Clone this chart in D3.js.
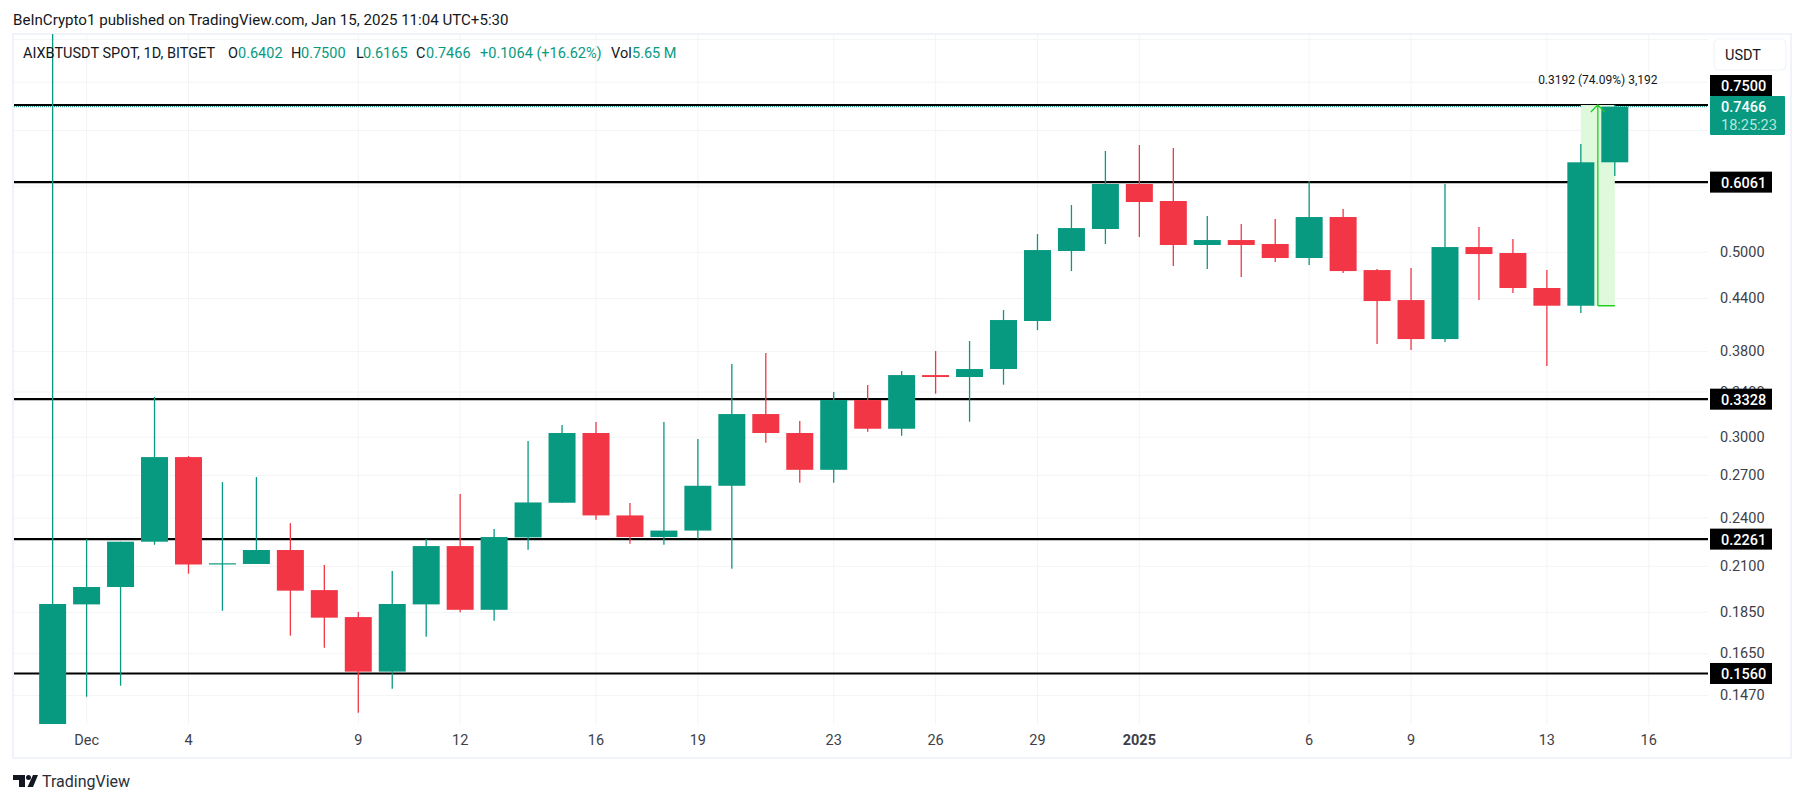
<!DOCTYPE html>
<html>
<head>
<meta charset="utf-8">
<script src="https://d3js.org/d3.v7.min.js"></script>
<style>
  body { margin: 0; background: #fff; }
  text { font-family: Roboto, sans-serif; }
</style>
</head>
<body>
<div id="chart"></div>
<script>
var svgWidth = 1804;
var svgHeight = 803;

// one entry per day, 30 Nov 2024 to 15 Jan 2025
var opens = [0.1300, 0.1888, 0.1981, 0.2245, 0.2836, 0.2108, 0.2111, 0.2194, 0.1964, 0.1823, 0.1568, 0.1888,
    0.2218, 0.1860, 0.2272, 0.2500, 0.3031, 0.2414, 0.2274, 0.2315, 0.2620, 0.3194, 0.3031, 0.2738, 0.3320,
    0.3067, 0.3557, 0.3538, 0.3617, 0.4130, 0.5011, 0.5325, 0.6030, 0.5753, 0.5095, 0.5165, 0.5109, 0.4915,
    0.5504, 0.4754, 0.4376, 0.3929, 0.5066, 0.4983, 0.4524, 0.4308, 0.6402];
var highs = [1.0500, 0.2261, 0.2245, 0.3348, 0.2844, 0.2647, 0.2684, 0.2363, 0.2105, 0.1849, 0.2070, 0.2261,
    0.2561, 0.2325, 0.2965, 0.3098, 0.3124, 0.2498, 0.3124, 0.2981, 0.3667, 0.3780, 0.3133, 0.3395, 0.3461,
    0.3597, 0.3801, 0.3908, 0.4257, 0.5251, 0.5689, 0.6605, 0.6716, 0.6660, 0.5519, 0.5399, 0.5474, 0.6080,
    0.5627, 0.4768, 0.4780, 0.6030, 0.5354, 0.5180, 0.4754, 0.6734, 0.7500];
var lows = [0.1300, 0.1463, 0.1508, 0.2226, 0.2055, 0.1855, 0.2111, 0.1732, 0.1675, 0.1400, 0.1496, 0.1727,
    0.1848, 0.1805, 0.2195, 0.2500, 0.2385, 0.2232, 0.2226, 0.2264, 0.2083, 0.2951, 0.2642, 0.2642, 0.3041,
    0.3008, 0.3379, 0.3127, 0.3464, 0.4028, 0.4741, 0.5109, 0.5209, 0.4808, 0.4768, 0.4664, 0.4861, 0.4821,
    0.4715, 0.3875, 0.3812, 0.3897, 0.4376, 0.4462, 0.3647, 0.4222, 0.6165];
var closes = [0.1890, 0.1981, 0.2245, 0.2836, 0.2108, 0.2115, 0.2194, 0.1961, 0.1820, 0.1568, 0.1890, 0.2218,
    0.1860, 0.2274, 0.2502, 0.3031, 0.2414, 0.2274, 0.2315, 0.2620, 0.3194, 0.3031, 0.2738, 0.3320, 0.3067,
    0.3557, 0.3538, 0.3617, 0.4141, 0.5024, 0.5339, 0.6030, 0.5737, 0.5095, 0.5165, 0.5095, 0.4915, 0.5504,
    0.4741, 0.4364, 0.3929, 0.5066, 0.4969, 0.4524, 0.4308, 0.6402, 0.7466];

// all of these get a grid line, the ones in hiddenPriceLabels sit behind a box in the original
var priceTicks = [0.9, 0.8, 0.7, 0.6, 0.5, 0.44, 0.38, 0.34, 0.3, 0.27, 0.24, 0.21, 0.185, 0.165, 0.147];
var hiddenPriceLabels = [0.9, 0.8, 0.7, 0.6];
var levels = [0.75, 0.6061, 0.3328, 0.2261, 0.156];
var lastPrice = 0.7466;

var tickDays = ["2024-12-01", "2024-12-04", "2024-12-09", "2024-12-12", "2024-12-16", "2024-12-19", "2024-12-23",
    "2024-12-26", "2024-12-29", "2025-01-01", "2025-01-06", "2025-01-09", "2025-01-13", "2025-01-16"];
var tickLabels = ["Dec", "4", "9", "12", "16", "19", "23", "26", "29", "2025", "6", "9", "13", "16"];

var measureDays = ["2025-01-14", "2025-01-15"];
var measurePrices = [0.4308, 0.75];

var upColor = "#089981";
var downColor = "#f23645";
var gridColor = "#f3f4f6";
var borderColor = "#f0f3fa";

var pane = { left: 14, right: 1708, top: 35, bottom: 724 };

var dayFormat = d3.utcFormat("%Y-%m-%d");
var priceFormat = d3.format(".4f");
// runs one day past the last candle so the "16" tick has a slot
var days = d3.utcDay.range(Date.UTC(2024, 10, 30), Date.UTC(2025, 0, 17)).map(dayFormat);

var svg = d3.select("#chart")
    .append("svg")
    .attr("width", svgWidth)
    .attr("height", svgHeight)
    .style("display", "block");

var xScale = d3.scaleBand()
    .domain(days)
    .range([39.14, 1662.26])
    .paddingInner(0.205)
    .paddingOuter(0);

var yScale = d3.scaleLog()
    .domain([0.75, 0.147])
    .range([105, 695]);

function xMid(day) {
    return xScale(day) + xScale.bandwidth() / 2;
}

// the 0.7500 box is pushed up so it clears the last price box
function levelLabelY(d) {
    return d === lastMeasureLevel ? yScale(d) - 19.5 : yScale(d);
}
var lastMeasureLevel = d3.max(levels);

svg.append("clipPath")
    .attr("id", "paneClip")
    .append("rect")
    .attr("x", pane.left)
    .attr("y", pane.top - 1)
    .attr("width", pane.right - pane.left)
    .attr("height", pane.bottom - pane.top + 1);

// grid + axes
var xAxis = svg.append("g")
    .attr("transform", `translate(0, ${pane.bottom})`)
    .call(d3.axisBottom(xScale)
        .tickValues(tickDays)
        .tickFormat(d => tickLabels[tickDays.indexOf(d)])
        .tickSize(-(pane.bottom - pane.top))
        .tickPadding(11));

var yAxis = svg.append("g")
    .attr("transform", `translate(${pane.right}, 0)`)
    .call(d3.axisRight(yScale)
        .tickValues(priceTicks)
        .tickFormat(d => hiddenPriceLabels.includes(d) ? "" : priceFormat(d))
        .tickSize(-(pane.right - pane.left))
        .tickPadding(12));

svg.selectAll(".domain").remove();
svg.selectAll(".tick line").attr("stroke", gridColor).attr("stroke-width", 1);
svg.selectAll(".tick text")
    .attr("font-family", "Roboto, sans-serif")
    .attr("font-size", 14.5)
    .attr("fill", "#3d4048");
xAxis.selectAll(".tick text")
    .attr("font-weight", d => d === "2025-01-01" ? "bold" : "normal");

// outer frame
svg.append("rect")
    .attr("x", 13)
    .attr("y", 34)
    .attr("width", 1778)
    .attr("height", 724)
    .attr("fill", "none")
    .attr("stroke", borderColor)
    .attr("stroke-width", 2);

var plot = svg.append("g").attr("clip-path", "url(#paneClip)");

// horizontal levels sit under the candles
plot.selectAll(".level")
    .data(levels)
    .enter()
    .append("line")
    .attr("class", "level")
    .attr("x1", pane.left)
    .attr("x2", pane.right)
    .attr("y1", d => yScale(d))
    .attr("y2", d => yScale(d))
    .attr("stroke", "#000")
    .attr("stroke-width", 2.2);

plot.append("line")
    .attr("x1", pane.left)
    .attr("x2", pane.right)
    .attr("y1", yScale(lastPrice))
    .attr("y2", yScale(lastPrice))
    .attr("stroke", upColor)
    .attr("stroke-width", 1)
    .attr("stroke-dasharray", "1,1");

// measure box
var measureLeft = xMid(measureDays[0]);
var measureRight = xMid(measureDays[1]);
var measureMid = (measureLeft + measureRight) / 2;
var measureTop = yScale(measurePrices[1]);
var measureBottom = yScale(measurePrices[0]);

plot.append("rect")
    .attr("x", measureLeft)
    .attr("y", measureTop)
    .attr("width", measureRight - measureLeft)
    .attr("height", measureBottom - measureTop)
    .attr("fill", "#dff9dc");

// candles
var candleIndex = d3.range(opens.length);

plot.selectAll(".wick")
    .data(candleIndex)
    .enter()
    .append("line")
    .attr("class", "wick")
    .attr("x1", i => xMid(days[i]))
    .attr("x2", i => xMid(days[i]))
    .attr("y1", i => yScale(highs[i]))
    .attr("y2", i => yScale(lows[i]))
    .attr("stroke", i => closes[i] >= opens[i] ? upColor : downColor)
    .attr("stroke-width", 1.3);

plot.selectAll(".body")
    .data(candleIndex)
    .enter()
    .append("rect")
    .attr("class", "body")
    .attr("x", i => xScale(days[i]))
    .attr("y", i => yScale(Math.max(opens[i], closes[i])))
    .attr("width", xScale.bandwidth())
    .attr("height", i => Math.max(1.2, yScale(Math.min(opens[i], closes[i])) - yScale(Math.max(opens[i], closes[i]))))
    .attr("fill", i => closes[i] >= opens[i] ? upColor : downColor);

// measure arrow
var arrowColor = "#22d022";
svg.append("path")
    .attr("d", `M${measureMid},${measureBottom}V${measureTop}M${measureMid - 7},${measureTop + 7}L${measureMid},${measureTop}L${measureMid + 7},${measureTop + 7}M${measureMid},${measureBottom}H${measureRight}`)
    .attr("fill", "none")
    .attr("stroke", arrowColor)
    .attr("stroke-width", 1.3);

svg.append("text")
    .attr("x", measureMid)
    .attr("y", 84)
    .attr("text-anchor", "middle")
    .attr("font-size", 12)
    .attr("fill", "#131722")
    .text("0.3192 (74.09%) 3,192");

// price labels on the axis
svg.selectAll(".levelBox")
    .data(levels)
    .enter()
    .append("rect")
    .attr("class", "levelBox")
    .attr("x", 1710)
    .attr("y", d => levelLabelY(d) - 10.5)
    .attr("width", 62)
    .attr("height", 21)
    .attr("fill", "#000");

svg.selectAll(".levelText")
    .data(levels)
    .enter()
    .append("text")
    .attr("class", "levelText")
    .attr("x", 1721)
    .attr("y", d => levelLabelY(d) + 5.5)
    .attr("font-size", 14.5)
    .attr("font-weight", 500)
    .attr("fill", "#fff")
    .text(priceFormat);

svg.append("rect")
    .attr("x", 1710)
    .attr("y", 96)
    .attr("width", 75)
    .attr("height", 39)
    .attr("rx", 1)
    .attr("fill", upColor);

svg.append("text")
    .attr("x", 1721)
    .attr("y", 112)
    .attr("font-size", 14.5)
    .attr("font-weight", 500)
    .attr("fill", "#fff")
    .text(priceFormat(lastPrice));

svg.append("text")
    .attr("x", 1721)
    .attr("y", 130)
    .attr("font-size", 14.5)
    .attr("fill", "#b5e6da")
    .text("18:25:23");

// USDT button
svg.append("rect")
    .attr("x", 1714)
    .attr("y", 39)
    .attr("width", 72)
    .attr("height", 31)
    .attr("rx", 5)
    .attr("fill", "#fff")
    .attr("stroke", borderColor)
    .attr("stroke-width", 1.2);

svg.append("text")
    .attr("x", 1725)
    .attr("y", 60)
    .attr("font-size", 14.5)
    .attr("fill", "#131722")
    .text("USDT");

// header + legend
svg.append("text")
    .attr("x", 13)
    .attr("y", 25)
    .attr("font-size", 15.1)
    .attr("fill", "#131722")
    .text("BeInCrypto1 published on TradingView.com, Jan 15, 2025 11:04 UTC+5:30");

var legendItems = [
    { x: 23, color: "#131722", label: "AIXBTUSDT SPOT, 1D, BITGET" },
    { x: 228, color: "#131722", label: "O" },
    { x: 238, color: upColor, label: "0.6402" },
    { x: 291, color: "#131722", label: "H" },
    { x: 301, color: upColor, label: "0.7500" },
    { x: 356, color: "#131722", label: "L" },
    { x: 363, color: upColor, label: "0.6165" },
    { x: 416, color: "#131722", label: "C" },
    { x: 426, color: upColor, label: "0.7466" },
    { x: 480, color: upColor, label: "+0.1064 (+16.62%)" },
    { x: 611, color: "#131722", label: "Vol" },
    { x: 632, color: upColor, label: "5.65 M" }
];

svg.selectAll(".legendText")
    .data(legendItems)
    .enter()
    .append("text")
    .attr("class", "legendText")
    .attr("x", d => d.x)
    .attr("y", 58)
    .attr("font-size", 14.5)
    .attr("fill", d => d.color)
    .text(d => d.label);

// TradingView mark
svg.append("path")
    .attr("d", "M13,775H25V787H19V780H13ZM33,775H38L33,787H27.5ZM26,777.5a2.5,2.5 0 1,0 5,0a2.5,2.5 0 1,0 -5,0Z")
    .attr("fill", "#131722");

svg.append("text")
    .attr("x", 42)
    .attr("y", 787)
    .attr("font-size", 16)
    .attr("fill", "#2a2e39")
    .text("TradingView");
</script>
</body>
</html>
